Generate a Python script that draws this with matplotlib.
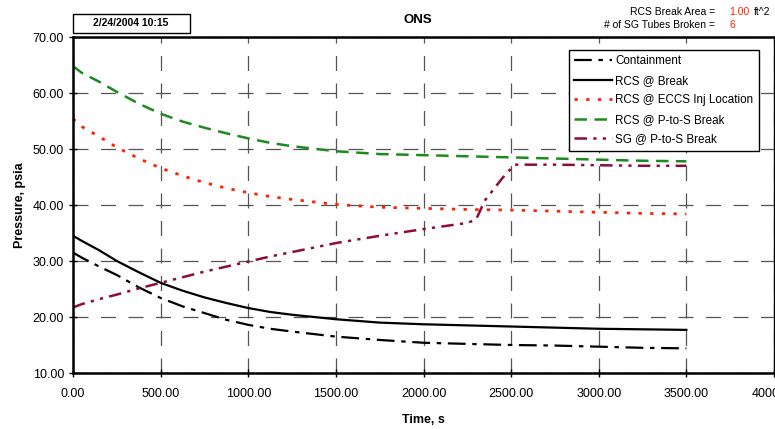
import matplotlib
matplotlib.use('Agg')
from matplotlib import pyplot as plt
from matplotlib.patches import Rectangle

plt.rcParams['font.family'] = ['Liberation Sans', 'DejaVu Sans']

# time points, s
t = [0, 50, 150, 250, 375, 500, 625, 750, 875, 1000, 1125, 1250, 1500, 1750, 2000, 2250, 2500, 2750, 3000, 3250, 3500]
containment = [31.5, 30.6, 29.0, 27.5, 25.3, 23.4, 21.9, 20.7, 19.5, 18.6, 17.9, 17.4, 16.5, 15.9, 15.4, 15.2, 15.0, 14.9, 14.7, 14.5, 14.4]
rcs_break = [34.5, 33.6, 31.9, 30.0, 28.0, 26.1, 24.7, 23.5, 22.5, 21.6, 20.9, 20.4, 19.6, 19.0, 18.7, 18.5, 18.3, 18.1, 17.9, 17.8, 17.7]
rcs_eccs = [55.4, 54.0, 52.2, 50.3, 48.3, 46.6, 45.2, 44.0, 43.0, 42.2, 41.5, 41.0, 40.1, 39.6, 39.4, 39.2, 39.1, 38.9, 38.7, 38.5, 38.4]
rcs_pts = [64.8, 63.6, 62.0, 60.2, 58.1, 56.3, 54.9, 53.8, 52.8, 51.9, 51.1, 50.5, 49.6, 49.1, 48.9, 48.7, 48.5, 48.3, 48.1, 47.9, 47.8]

t_sg = [0, 50, 150, 250, 375, 500, 625, 750, 875, 1000, 1125, 1250, 1500, 1750, 2000, 2250, 2300, 2350, 2450, 2520, 2750, 3000, 3250, 3500]
sg_pts = [21.7, 22.3, 23.2, 24.0, 25.1, 26.1, 27.1, 28.1, 29.0, 29.9, 30.8, 31.6, 33.2, 34.5, 35.7, 36.8, 37.4, 40.8, 44.8, 47.2, 47.2, 47.1, 47.0, 47.0]

xticks = [0, 500, 1000, 1500, 2000, 2500, 3000, 3500, 4000]
yticks = [10, 20, 30, 40, 50, 60, 70]

fig = plt.figure(figsize=(7.75, 4.29), dpi=100)
ax = fig.add_axes([73/775, 56/429, 701/775, 336/429])

ax.plot(t, containment, color='black', lw=1.6, ls=(0, (8, 3, 2, 3)), label='Containment')
ax.plot(t, rcs_break, color='black', lw=1.6, ls='-', label='RCS @ Break')
ax.plot(t, rcs_eccs, color='#ff2200', lw=2.0, ls=(0, (1.2, 3)), label='RCS @ ECCS Inj Location')
ax.plot(t, rcs_pts, color='#1e8a1e', lw=1.8, ls=(0, (5, 3)), label='RCS @ P-to-S Break')
ax.plot(t_sg, sg_pts, color='#8c0d3c', lw=1.8, ls=(0, (5, 2.5, 1.3, 2.5, 1.3, 2.5)), label='SG @ P-to-S Break')

ax.set_xlim(0, 4000)
ax.set_ylim(10, 70)
ax.set_xticks(xticks)
ax.set_yticks(yticks)
ax.set_xticklabels(['%.2f' % v for v in xticks])
ax.set_yticklabels(['%.2f' % v for v in yticks])
ax.tick_params(axis='both', labelsize=9, direction='inout', length=6, width=1, color='black')
ax.tick_params(axis='x', pad=8)
ax.grid(True, color='#555555', lw=0.9, ls=(0, (12, 10)))
for s in ax.spines.values():
    s.set_linewidth(1.8)
    s.set_color('black')
ax.spines['right'].set_linewidth(1.0)

ax.set_xlabel('Time, s', fontsize=9, fontweight='bold', labelpad=10)
ax.set_ylabel('Pressure, psia', fontsize=9, fontweight='bold', labelpad=5)

leg = ax.legend(loc='upper right', bbox_to_anchor=(0.978, 0.962), fontsize=8.4, frameon=True,
                fancybox=False, edgecolor='black', framealpha=1, handlelength=3.2,
                handletextpad=0.3, borderpad=0.45, labelspacing=0.65, borderaxespad=0)
leg.get_frame().set_linewidth(1.0)

fig.text(418/775, 1 - 20/429, 'ONS', fontsize=9.5, fontweight='bold', ha='center', va='center')
fig.patches.append(Rectangle((73/775, 1 - 33/429), 117/775, 19/429, transform=fig.transFigure,
                             fc='white', ec='black', lw=1.0))
fig.text(131/775, 1 - 23.5/429, '2/24/2004 10:15', fontsize=7.5, fontweight='bold', ha='center', va='center')

fig.text(715/775, 1 - 12/429, 'RCS Break Area =', fontsize=7.5, ha='right', va='center')
fig.text(729/775, 1 - 12/429, '1.00', fontsize=7.5, color='#ff2200', ha='left', va='center')
fig.text(754/775, 1 - 12/429, 'ft^2', fontsize=7.5, ha='left', va='center')
fig.text(715/775, 1 - 25/429, '# of SG Tubes Broken =', fontsize=7.5, ha='right', va='center')
fig.text(729/775, 1 - 25/429, '6', fontsize=7.5, color='#ff2200', ha='left', va='center')

fig.savefig('out.png', dpi=100)
